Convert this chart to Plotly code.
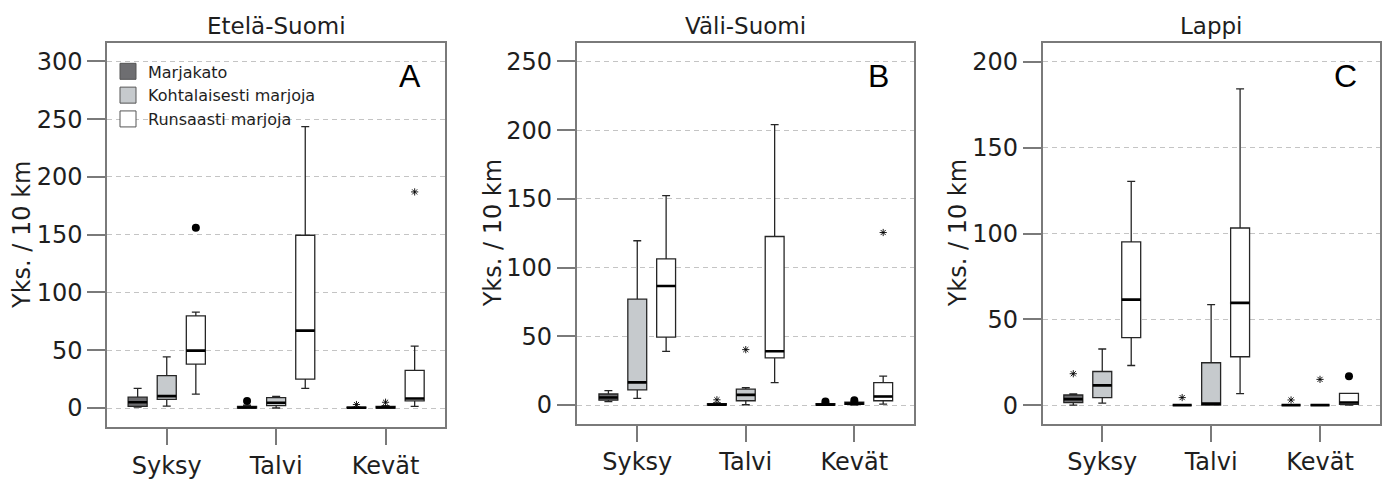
import plotly.graph_objects as go

SEASONS = ["Syksy", "Talvi", "Kevät"]
SERIES = ["Marjakato", "Kohtalaisesti marjoja", "Runsaasti marjoja"]
REGIONS = ["Etelä-Suomi", "Väli-Suomi", "Lappi"]
LETTERS = ["A", "B", "C"]
Y_TICKS = [list(range(0, 301, 50)), list(range(0, 251, 50)), list(range(0, 201, 50))]

# rows = series (Marjakato, Kohtalaisesti, Runsaasti), columns = seasons
ETELA_LOWER = [[0.8, 0, 0], [1.7, 0, 0], [12, 17, 1.4]]
ETELA_Q1 = [[1.4, 0, 0], [7.4, 2, 0], [38, 25, 6.2]]
ETELA_MEDIAN = [[5, 0.5, 0.2], [10.3, 4.5, 0.5], [49.7, 67, 8.2]]
ETELA_Q3 = [[9.4, 1.5, 0.8], [28, 9, 1.5], [79.7, 149.5, 32.5]]
ETELA_UPPER = [[17, 2.5, 1], [44.3, 10, 2], [83, 243.5, 53.5]]
# (series, season, value, kind)  kind: "o" outlier, "*" extreme
ETELA_OUTLIERS = [(0, 1, 6, "o"), (0, 2, 3, "*"), (1, 2, 5, "*"), (2, 0, 156, "o"), (2, 2, 187, "*")]

VALI_LOWER = [[2.5, 0, 0], [4.8, 0.2, 0], [39, 16.3, 0.7]]
VALI_Q1 = [[3.5, 0, 0], [11, 3.1, 0.5], [49.4, 34.3, 3.1]]
VALI_MEDIAN = [[5.5, 0.3, 0.3], [16.5, 7.4, 1], [86.6, 39.1, 6.2]]
VALI_Q3 = [[8, 1, 1], [77, 11.5, 2], [106.3, 122.6, 16.3]]
VALI_UPPER = [[10.5, 1.5, 1.5], [119.5, 12.7, 2.5], [152.3, 204, 21]]
VALI_OUTLIERS = [(0, 1, 3.8, "*"), (1, 1, 40.3, "*"), (0, 2, 2.5, "o"), (1, 2, 3.5, "o"), (2, 2, 125.5, "*")]

LAPPI_LOWER = [[0, 0, 0], [1.2, 0, 0], [23.1, 6.7, 0]]
LAPPI_Q1 = [[1.5, 0, 0], [4.4, 0, 0], [39.3, 28.2, 0.5]]
LAPPI_MEDIAN = [[3.5, 0, 0], [11.5, 0.9, 0], [61.5, 59.6, 1.5]]
LAPPI_Q3 = [[5.9, 0, 0], [19.6, 24.7, 0], [95.1, 103.2, 6.9]]
LAPPI_UPPER = [[6.5, 0, 0], [32.7, 58.6, 0], [130.4, 184.3, 6.9]]
LAPPI_OUTLIERS = [(0, 0, 18.3, "*"), (0, 1, 4.4, "*"), (0, 2, 3, "*"), (1, 2, 15, "*"), (2, 2, 16.8, "o")]

PANELS = [
    (ETELA_LOWER, ETELA_Q1, ETELA_MEDIAN, ETELA_Q3, ETELA_UPPER, ETELA_OUTLIERS),
    (VALI_LOWER, VALI_Q1, VALI_MEDIAN, VALI_Q3, VALI_UPPER, VALI_OUTLIERS),
    (LAPPI_LOWER, LAPPI_Q1, LAPPI_MEDIAN, LAPPI_Q3, LAPPI_UPPER, LAPPI_OUTLIERS),
]

# ---- style / layout ----
W, H = 1382, 480
FONT = "DejaVu Sans"
FILLS = ["#6e6e71", "#c6cacd", "#ffffff"]
OFFSETS = [-0.266, 0.0, 0.266]
BOX_W = 0.174
FRAME = "#7a7a7a"
X_DOM = [(107 / W, 445.3 / W), (576.7 / W, 914 / W), (1042.7 / W, 1380 / W)]
Y_DOM = [(1 - 431.7 / H, 1 - 43.3 / H), (1 - 428.3 / H, 1 - 43.3 / H), (1 - 428.3 / H, 1 - 43.3 / H)]
Y_RANGE = [(-16.6, 316.0), (-13.7, 263.5), (-10.9, 211.1)]
X_RANGE = [(-0.546, 2.546), (-0.558, 2.55), (-0.547, 2.551)]
YTITLE_X = [22, 493, 958]

fig = go.Figure()
layout_axes = {}
annotations = []

for p, (low, q1, med, q3, up, outs) in enumerate(PANELS):
    xa = "x" if p == 0 else f"x{p + 1}"
    ya = "y" if p == 0 else f"y{p + 1}"
    for k in range(3):
        xs = [s + OFFSETS[k] for s in range(len(SEASONS))]
        fig.add_trace(go.Box(
            x=xs, q1=q1[k], median=med[k], q3=q3[k],
            lowerfence=low[k], upperfence=up[k],
            width=BOX_W, fillcolor=FILLS[k],
            line=dict(color="#262626", width=1.3), whiskerwidth=0.42,
            boxpoints=False, showlegend=False, hoverinfo="skip",
            xaxis=xa, yaxis=ya,
        ))
        mx, my = [], []
        for s in range(len(SEASONS)):
            mx += [xs[s] - BOX_W / 2, xs[s] + BOX_W / 2, None]
            my += [med[k][s], med[k][s], None]
        fig.add_trace(go.Scatter(
            x=mx, y=my, mode="lines", line=dict(color="#000000", width=2.6),
            showlegend=False, hoverinfo="skip", xaxis=xa, yaxis=ya,
        ))
    for kind, sym, size, lw in [("o", "circle", 8, 0), ("*", "asterisk-open", 6, 0.9)]:
        pts = [o for o in outs if o[3] == kind]
        if not pts:
            continue
        fig.add_trace(go.Scatter(
            x=[o[1] + OFFSETS[o[0]] for o in pts], y=[o[2] for o in pts],
            mode="markers",
            marker=dict(symbol=sym, size=size, color="#000000",
                        line=dict(color="#333333" if kind == "*" else "#000000", width=lw)),
            showlegend=False, hoverinfo="skip", xaxis=xa, yaxis=ya,
        ))

    xkey = "xaxis" if p == 0 else f"xaxis{p + 1}"
    ykey = "yaxis" if p == 0 else f"yaxis{p + 1}"
    layout_axes[xkey] = dict(
        domain=list(X_DOM[p]), range=list(X_RANGE[p]), anchor=ya,
        tickvals=list(range(len(SEASONS))), ticktext=SEASONS,
        ticks="outside", ticklen=16, tickwidth=1.5, tickcolor=FRAME,
        showline=True, mirror=True, linecolor=FRAME, linewidth=1.5,
        showgrid=False, zeroline=False,
        tickfont=dict(family=FONT, size=24, color="#1e1e1e"),
    )
    layout_axes[ykey] = dict(
        domain=list(Y_DOM[p]), range=list(Y_RANGE[p]), anchor=xa,
        tickvals=Y_TICKS[p], ticks="outside", ticklen=18, tickwidth=1.5,
        tickcolor=FRAME, showline=True, mirror=True, linecolor=FRAME,
        linewidth=1.5, showgrid=True, gridcolor="#c4c4c4", gridwidth=1.2,
        griddash="5px,4px", zeroline=False,
        tickfont=dict(family=FONT, size=24, color="#1e1e1e"),
    )
    cx = (X_DOM[p][0] + X_DOM[p][1]) / 2
    cy = (Y_DOM[p][0] + Y_DOM[p][1]) / 2
    annotations.append(dict(text=REGIONS[p], x=cx, y=1 - 26 / H, xref="paper", yref="paper",
                            xanchor="center", yanchor="middle", showarrow=False,
                            font=dict(family=FONT, size=23, color="#1e1e1e")))
    annotations.append(dict(text=LETTERS[p], x=X_DOM[p][1] - 35 / W, y=1 - 77 / H,
                            xref="paper", yref="paper", xanchor="center", yanchor="middle",
                            showarrow=False,
                            font=dict(family="Liberation Sans", size=32, color="#000000")))
    annotations.append(dict(text="Yks. / 10 km", x=YTITLE_X[p] / W, y=cy, xref="paper",
                            yref="paper", xanchor="center", yanchor="middle", textangle=-90,
                            showarrow=False, font=dict(family=FONT, size=24, color="#1e1e1e")))

# legend entries
for k in range(3):
    fig.add_trace(go.Scatter(
        x=[None], y=[None], mode="markers", name=SERIES[k],
        marker=dict(symbol="square", size=17, color=FILLS[k], line=dict(color="#555555", width=1)),
        showlegend=True, xaxis="x", yaxis="y",
    ))

fig.update_layout(
    width=W, height=H, margin=dict(l=0, r=0, t=0, b=0),
    plot_bgcolor="#ffffff", paper_bgcolor="#ffffff",
    boxmode="overlay", annotations=annotations,
    legend=dict(x=108 / W, y=1 - 55 / H, xanchor="left", yanchor="top",
                bgcolor="rgba(0,0,0,0)", font=dict(family=FONT, size=16, color="#1e1e1e"),
                tracegroupgap=0, itemwidth=30),
    **layout_axes,
)

fig.write_html("out.html")
